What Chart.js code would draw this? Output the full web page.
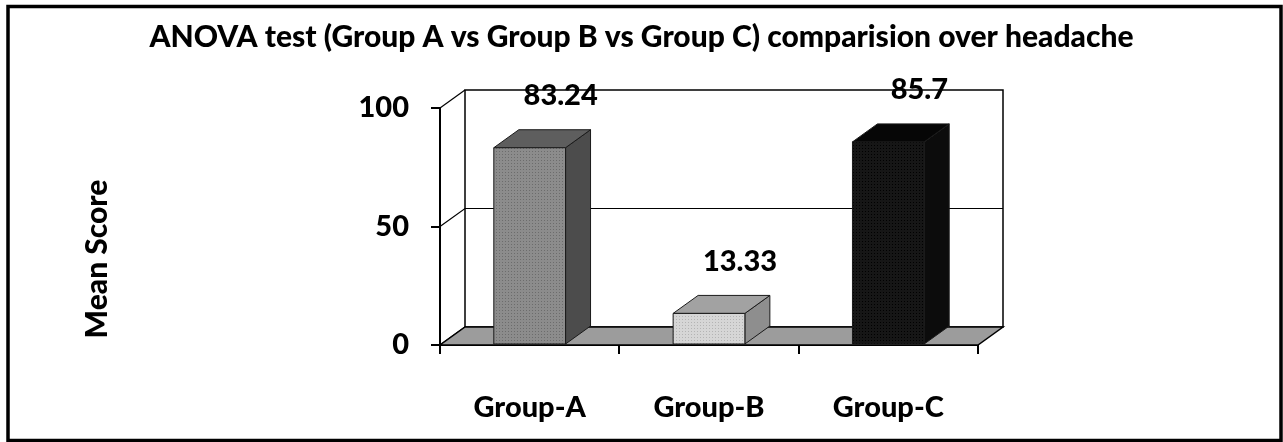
<!DOCTYPE html>
<html>
<head>
<meta charset="utf-8">
<script src="https://cdn.jsdelivr.net/npm/chart.js@4/dist/chart.umd.min.js"></script>
<style>
  html, body { margin: 0; padding: 0; background: #ffffff; }
  #wrap { width: 1283px; height: 442px; position: relative; }
</style>
</head>
<body>
<div id="wrap"><canvas id="chart" width="1283" height="442"></canvas></div>
<script>
// Chart values
const categories = ['Group-A', 'Group-B', 'Group-C'];
const meanScores = [83.24, 13.33, 85.7];
const valueLabels = ['83.24', '13.33', '85.7'];
const yTicks = [0, 50, 100];
const yAxisTitle = 'Mean Score';

const FONT = 'Lato, "Open Sans", sans-serif';
const WEIGHT = '900';

// 3D depth offset of the walls and bars (pixels)
const DEPTH_X = 25;
const DEPTH_Y = -18;

// face colours per bar: front base, front dot, top, side
const barStyles = [
  { base: '#8c8c8c', dot: '#6c6c6c', top: '#5e5e5e', side: '#4c4c4c' },
  { base: '#d6d6d6', dot: '#b4b4b4', top: '#a2a2a2', side: '#8e8e8e' },
  { base: '#161616', dot: '#000000', top: '#060606', side: '#0c0c0c' }
];

function dotPattern(ctx, base, dot) {
  const c = document.createElement('canvas');
  c.width = 3; c.height = 3;
  const g = c.getContext('2d');
  g.fillStyle = base; g.fillRect(0, 0, 3, 3);
  g.fillStyle = dot; g.fillRect(1, 1, 1, 1);
  return ctx.createPattern(c, 'repeat');
}

function poly(ctx, pts, fill, stroke, lw) {
  ctx.beginPath();
  ctx.moveTo(pts[0][0], pts[0][1]);
  for (let i = 1; i < pts.length; i++) ctx.lineTo(pts[i][0], pts[i][1]);
  ctx.closePath();
  if (fill) { ctx.fillStyle = fill; ctx.fill(); }
  if (stroke) { ctx.strokeStyle = stroke; ctx.lineWidth = lw || 1; ctx.stroke(); }
}

// Back wall, side wall and floor of the 3D plot box, then the 3D bars
const wallsPlugin = {
  id: 'walls',
  beforeDatasetsDraw(chart) {
    const { ctx, chartArea: a, scales: { y } } = chart;
    const L = a.left, R = a.right, T = a.top, B = a.bottom;
    ctx.save();
    ctx.lineJoin = 'miter';
    // back wall
    poly(ctx, [[L + DEPTH_X, T + DEPTH_Y], [R + DEPTH_X, T + DEPTH_Y], [R + DEPTH_X, B + DEPTH_Y], [L + DEPTH_X, B + DEPTH_Y]], '#ffffff', '#000000', 1.5);
    // grid lines on back wall and side wall (base and top only on the side)
    yTicks.forEach(v => {
      const py = y.getPixelForValue(v);
      ctx.strokeStyle = '#000000';
      ctx.lineWidth = 1.2;
      ctx.beginPath();
      ctx.moveTo(L, py);
      ctx.lineTo(L + DEPTH_X, py + DEPTH_Y);
      if (v !== yTicks[0] && v !== yTicks[yTicks.length - 1]) {
        ctx.lineTo(R + DEPTH_X, py + DEPTH_Y);
      }
      ctx.stroke();
    });
    // floor
    poly(ctx, [[L, B], [R, B], [R + DEPTH_X, B + DEPTH_Y], [L + DEPTH_X, B + DEPTH_Y]], '#9c9c9c', '#000000', 1.5);
    ctx.restore();
  },
  afterDatasetsDraw(chart) {
    const { ctx, chartArea: a } = chart;
    const meta = chart.getDatasetMeta(0);
    ctx.save();
    meta.data.forEach((bar, i) => {
      const st = barStyles[i];
      const half = bar.width / 2;
      const x0 = bar.x - half, x1 = bar.x + half;
      const yt = bar.y, yb = bar.base;
      // side face
      poly(ctx, [[x1, yb], [x1 + DEPTH_X, yb + DEPTH_Y], [x1 + DEPTH_X, yt + DEPTH_Y], [x1, yt]], st.side, '#1a1a1a', 1);
      // top face
      poly(ctx, [[x0, yt], [x0 + DEPTH_X, yt + DEPTH_Y], [x1 + DEPTH_X, yt + DEPTH_Y], [x1, yt]], st.top, '#1a1a1a', 1);
      // front face
      poly(ctx, [[x0, yt], [x1, yt], [x1, yb], [x0, yb]], dotPattern(ctx, st.base, st.dot), '#1a1a1a', 1);
    });
    // value labels above the bars
    ctx.fillStyle = '#000000';
    ctx.font = WEIGHT + ' 29px ' + FONT;
    ctx.textAlign = 'center';
    ctx.textBaseline = 'middle';
    meta.data.forEach((bar, i) => {
      ctx.fillText(valueLabels[i], bar.x + 31, bar.y - 52);
    });
    // vertical axis title, left of the tick labels
    ctx.save();
    ctx.translate(97, a.bottom - 86);
    ctx.rotate(-Math.PI / 2);
    ctx.font = WEIGHT + ' 30px ' + FONT;
    ctx.fillText(yAxisTitle, 0, 0);
    ctx.restore();
    ctx.restore();
  },
  afterDraw(chart) {
    const { ctx } = chart;
    ctx.save();
    ctx.strokeStyle = '#000000';
    ctx.lineWidth = 3.5;
    ctx.strokeRect(8, 6.5, 1273, 434);
    ctx.restore();
  }
};

new Chart(document.getElementById('chart'), {
  type: 'bar',
  data: {
    labels: categories,
    datasets: [{
      data: meanScores,
      backgroundColor: 'rgba(0,0,0,0)',
      borderWidth: 0,
      barPercentage: 0.4,
      categoryPercentage: 1.0
    }]
  },
  options: {
    responsive: false,
    animation: false,
    devicePixelRatio: 1,
    layout: { padding: 0 },
    plugins: {
      legend: { display: false },
      tooltip: { enabled: false },
      title: {
        display: true,
        text: 'ANOVA test (Group A vs Group B vs Group C) comparision over headache',
        color: '#000000',
        font: { family: FONT, size: 30, weight: WEIGHT, lineHeight: 1.2 },
        padding: { top: 19, bottom: 53 }
      }
    },
    scales: {
      x: {
        type: 'category',
        grid: { display: true, drawOnChartArea: false, drawTicks: true, tickLength: 9, color: '#000000', lineWidth: 2, offset: true },
        border: { display: true, color: '#000000', width: 2 },
        ticks: { color: '#000000', font: { family: FONT, size: 29, weight: WEIGHT }, padding: 36, maxRotation: 0 },
        afterFit(s) { s.height = 97; }
      },
      y: {
        min: 0,
        max: 100,
        afterBuildTicks(s) { s.ticks = yTicks.map(v => ({ value: v })); },
        grid: { display: true, drawOnChartArea: false, drawTicks: true, tickLength: 9, color: '#000000', lineWidth: 2 },
        border: { display: true, color: '#000000', width: 2 },
        ticks: { color: '#000000', font: { family: FONT, size: 29, weight: WEIGHT }, padding: 22 },
        afterFit(s) { s.width = 440; }
      },
      // empty right-hand axis that reserves the space to the right of the plot box
      yRight: {
        position: 'right',
        display: true,
        grid: { display: false },
        border: { display: false },
        ticks: { display: false },
        afterFit(s) { s.width = 305; }
      }
    }
  },
  plugins: [wallsPlugin]
});
</script>
</body>
</html>
